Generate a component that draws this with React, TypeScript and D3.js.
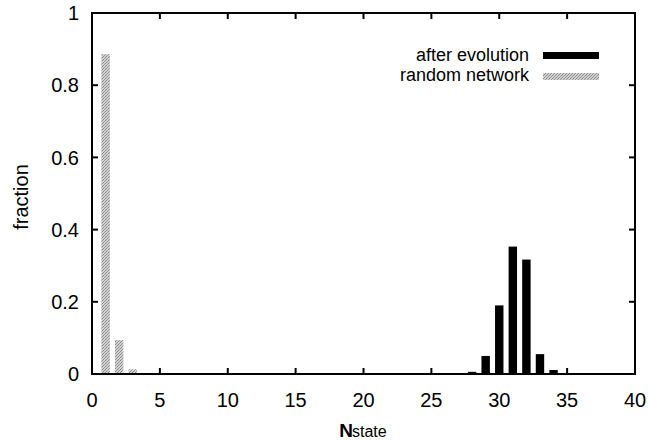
import React from "react";
import * as d3 from "d3";

const evoStates = [28, 29, 30, 31, 32, 33, 34];
const evoValues = [0.006, 0.05, 0.19, 0.353, 0.317, 0.055, 0.011];
const randStates = [1, 2, 3];
const randValues = [0.886, 0.094, 0.013];
const xTicks = [0, 5, 10, 15, 20, 25, 30, 35, 40];
const yTicks = [0, 0.2, 0.4, 0.6, 0.8, 1];
const yTickLabels = ["0", "0.2", "0.4", "0.6", "0.8", "1"];
const legendLabels = ["after evolution", "random network"];

const W = 649, H = 441;
const L = 92, R = 635, T = 13, B = 374;

export default function App() {
  const x = d3.scaleLinear().domain([0, 40]).range([L, R]);
  const y = d3.scaleLinear().domain([0, 1]).range([B, T]);
  const bw = x(0.62) - x(0);
  const font = "'Liberation Sans', Arial, Helvetica, sans-serif";
  return (
    <svg width={W} height={H} style={{ position: "absolute", left: 0, top: 0 }}>
      <defs>
        <pattern id="grey" width="3" height="3" patternUnits="userSpaceOnUse">
          <rect width="3" height="3" fill="#d0d0d0" />
          <rect x="0" y="0" width="1" height="1" fill="#8a8a8a" />
          <rect x="2" y="1" width="1" height="1" fill="#9a9a9a" />
          <rect x="1" y="2" width="1" height="1" fill="#8c8c8c" />
        </pattern>
      </defs>
      <rect width={W} height={H} fill="#fff" />
      {randStates.map((s, i) => (
        <rect key={"r" + i} x={x(s) - bw / 2} y={y(randValues[i])} width={bw} height={B - y(randValues[i])} fill="url(#grey)" />
      ))}
      {evoStates.map((s, i) => (
        <rect key={"e" + i} x={x(s) - bw / 2} y={y(evoValues[i])} width={bw} height={B - y(evoValues[i])} fill="#000" />
      ))}
      <rect x={L} y={T} width={R - L} height={B - T} fill="none" stroke="#000" strokeWidth={2} />
      {xTicks.map((t) => (
        <g key={"x" + t}>
          <line x1={x(t)} x2={x(t)} y1={B} y2={B - 6} stroke="#000" strokeWidth={2} />
          <line x1={x(t)} x2={x(t)} y1={T} y2={T + 6} stroke="#000" strokeWidth={2} />
          <text x={x(t)} y={407} textAnchor="middle" fontFamily={font} fontSize={20}>{t}</text>
        </g>
      ))}
      {yTicks.map((t, i) => (
        <g key={"y" + t}>
          <line x1={L} x2={L + 6} y1={y(t)} y2={y(t)} stroke="#000" strokeWidth={2} />
          <line x1={R} x2={R - 6} y1={y(t)} y2={y(t)} stroke="#000" strokeWidth={2} />
          <text x={79} y={y(t)} dy="0.36em" textAnchor="end" fontFamily={font} fontSize={20}>{yTickLabels[i]}</text>
        </g>
      ))}
      <text transform={`translate(28,197) rotate(-90)`} textAnchor="middle" fontFamily={font} fontSize={20}>fraction</text>
      <text x={363} y={437} textAnchor="middle" fontFamily={font}>
        <tspan fontSize={19} letterSpacing={-1} fontWeight="bold">N</tspan>
        <tspan fontSize={16}>state</tspan>
      </text>
      <text x={529} y={61} textAnchor="end" fontFamily={font} fontSize={18}>{legendLabels[0]}</text>
      <text x={529} y={81} textAnchor="end" fontFamily={font} fontSize={18}>{legendLabels[1]}</text>
      <rect x={543} y={52} width={56} height={7} fill="#000" />
      <rect x={543} y={73} width={56} height={7} fill="url(#grey)" />
    </svg>
  );
}
